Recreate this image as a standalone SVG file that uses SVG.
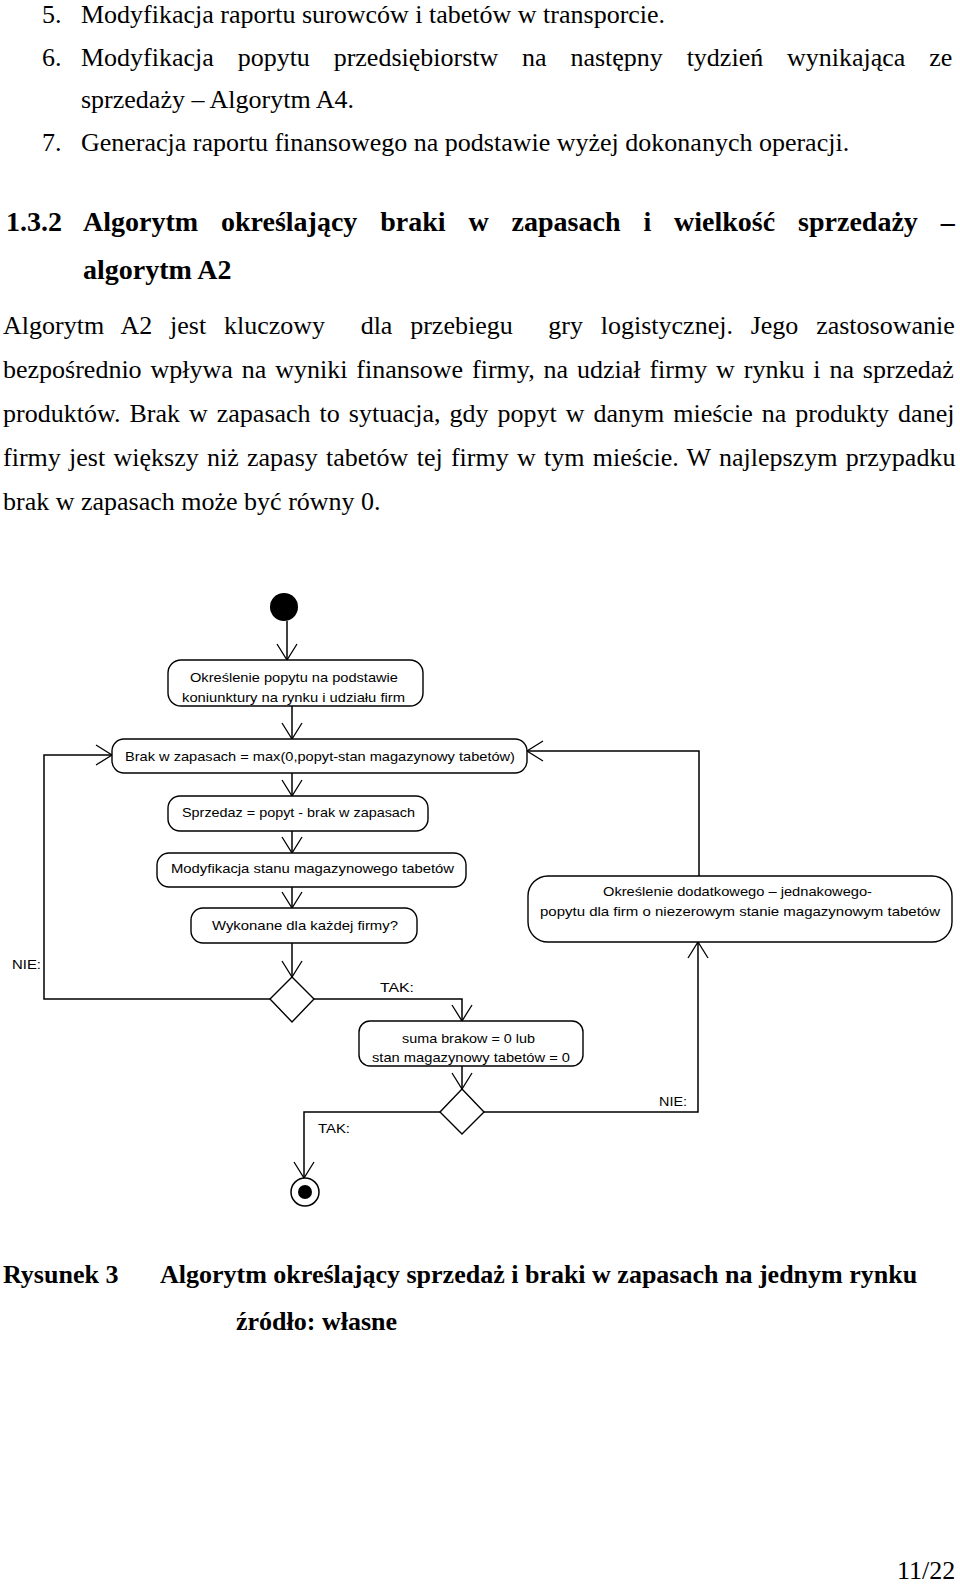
<svg xmlns="http://www.w3.org/2000/svg" width="960" height="1584" viewBox="0 0 960 1584">
<style>
.t{font-family:"Liberation Serif","Times New Roman",serif;font-size:26px;fill:#000;white-space:pre}
.b{font-weight:bold}
.h{font-family:"Liberation Serif","Times New Roman",serif;font-size:28px;font-weight:bold;fill:#000;white-space:pre}
.d{font-family:"Liberation Sans",Arial,sans-serif;font-size:13px;fill:#000}
.box{fill:#fff;stroke:#000;stroke-width:1.4}
.c{fill:none;stroke:#000;stroke-width:1.5}
</style>
<defs>
<marker id="a" viewBox="-18 -12 20 24" markerWidth="20" markerHeight="24" refX="0" refY="0" orient="auto" markerUnits="userSpaceOnUse">
<path d="M-16,-10 L0,0 L-16,10" fill="none" stroke="#000" stroke-width="1.3"/>
</marker>
</defs>
<rect width="960" height="1584" fill="#fff"/>

<g id="page-text">
<text class="t" x="42" y="23">5.</text>
<text class="t" x="81" y="23">Modyfikacja raportu surowców i tabetów w transporcie.</text>
<text class="t" x="42" y="66">6.</text>
<text class="t" x="81" y="66" style="word-spacing:17.3px">Modyfikacja popytu przedsiębiorstw na następny tydzień wynikająca ze</text>
<text class="t" x="81" y="108">sprzedaży – Algorytm A4.</text>
<text class="t" x="42" y="151">7.</text>
<text class="t" x="81" y="151">Generacja raportu finansowego na podstawie wyżej dokonanych operacji.</text>
<text class="h" x="6" y="231">1.3.2</text>
<text class="h" x="83" y="231" style="word-spacing:15.9px">Algorytm określający braki w zapasach i wielkość sprzedaży –</text>
<text class="h" x="83" y="279">algorytm A2</text>
<text class="t" x="3" y="334" style="word-spacing:11.3px">Algorytm A2 jest kluczowy  dla przebiegu  gry logistycznej. Jego zastosowanie</text>
<text class="t" x="3" y="378" style="word-spacing:2.4px">bezpośrednio wpływa na wyniki finansowe firmy, na udział firmy w rynku i na sprzedaż</text>
<text class="t" x="3" y="422" style="word-spacing:2.5px">produktów. Brak w zapasach to sytuacja, gdy popyt w danym mieście na produkty danej</text>
<text class="t" x="3" y="466" style="word-spacing:1.8px">firmy jest większy niż zapasy tabetów tej firmy w tym mieście. W najlepszym przypadku</text>
<text class="t" x="3" y="510">brak w zapasach może być równy 0.</text>
<text class="t b" x="3" y="1283">Rysunek 3</text>
<text class="t b" x="160" y="1283">Algorytm określający sprzedaż i braki w zapasach na jednym rynku</text>
<text class="t b" x="236" y="1330">źródło: własne</text>
<text class="t" x="897" y="1579">11/22</text>
</g>

<g id="connectors">
<path class="c" d="M287,621 V660" marker-end="url(#a)"/>
<path class="c" d="M292,706 V739" marker-end="url(#a)"/>
<path class="c" d="M292,773 V796" marker-end="url(#a)"/>
<path class="c" d="M292,831 V853" marker-end="url(#a)"/>
<path class="c" d="M292,887 V908" marker-end="url(#a)"/>
<path class="c" d="M292,943 V977" marker-end="url(#a)"/>
<path class="c" d="M270,999 H44 V755 H112" marker-end="url(#a)"/>
<path class="c" d="M314,999 H462 V1021" marker-end="url(#a)"/>
<path class="c" d="M462,1066 V1089" marker-end="url(#a)"/>
<path class="c" d="M440,1112 H304 V1178" marker-end="url(#a)"/>
<path class="c" d="M484,1112 H698 V942" marker-end="url(#a)"/>
<path class="c" d="M699,876 V751 H527" marker-end="url(#a)"/>
<text class="d" x="12" y="969" textLength="29" lengthAdjust="spacingAndGlyphs">NIE:</text>
<text class="d" x="380" y="992" textLength="34" lengthAdjust="spacingAndGlyphs">TAK:</text>
<text class="d" x="318" y="1133" textLength="32" lengthAdjust="spacingAndGlyphs">TAK:</text>
<text class="d" x="659" y="1106" textLength="28" lengthAdjust="spacingAndGlyphs">NIE:</text>
</g>

<g id="start">
<circle cx="284" cy="607" r="14" fill="#000"/>
</g>

<g id="n1">
<rect class="box" x="168" y="660" width="255" height="46" rx="13"/>
<text class="d" x="190" y="682" textLength="208" lengthAdjust="spacingAndGlyphs">Określenie popytu na podstawie</text>
<text class="d" x="182" y="702" textLength="223" lengthAdjust="spacingAndGlyphs">koniunktury na rynku i udziału firm</text>
</g>

<g id="n2">
<rect class="box" x="112" y="739" width="415" height="34" rx="12"/>
<text class="d" x="125" y="761" textLength="390" lengthAdjust="spacingAndGlyphs">Brak w zapasach = max(0,popyt-stan magazynowy tabetów)</text>
</g>

<g id="n3">
<rect class="box" x="168" y="796" width="260" height="35" rx="12"/>
<text class="d" x="182" y="817" textLength="233" lengthAdjust="spacingAndGlyphs">Sprzedaz = popyt - brak w zapasach</text>
</g>

<g id="n4">
<rect class="box" x="157" y="853" width="309" height="34" rx="12"/>
<text class="d" x="171" y="873" textLength="283" lengthAdjust="spacingAndGlyphs">Modyfikacja stanu magazynowego tabetów</text>
</g>

<g id="n5">
<rect class="box" x="191" y="908" width="226" height="35" rx="12"/>
<text class="d" x="212" y="930" textLength="186" lengthAdjust="spacingAndGlyphs">Wykonane dla każdej firmy?</text>
</g>

<g id="d1">
<path class="box" d="M292,977 L314,999 L292,1022 L270,999 Z"/>
</g>

<g id="n6">
<rect class="box" x="359" y="1021" width="224" height="45" rx="11"/>
<text class="d" x="402" y="1043" textLength="133" lengthAdjust="spacingAndGlyphs">suma brakow = 0 lub</text>
<text class="d" x="372" y="1062" textLength="198" lengthAdjust="spacingAndGlyphs">stan magazynowy tabetów = 0</text>
</g>

<g id="d2">
<path class="box" d="M462,1089 L484,1112 L462,1134 L440,1112 Z"/>
</g>

<g id="end">
<circle cx="305" cy="1192" r="14" fill="#fff" stroke="#000" stroke-width="1.5"/>
<circle cx="305" cy="1192" r="7" fill="#000"/>
</g>

<g id="n7">
<rect class="box" x="528" y="876" width="424" height="66" rx="20"/>
<text class="d" x="603" y="896" textLength="269" lengthAdjust="spacingAndGlyphs">Określenie dodatkowego – jednakowego-</text>
<text class="d" x="540" y="916" textLength="400" lengthAdjust="spacingAndGlyphs">popytu dla firm o niezerowym stanie magazynowym tabetów</text>
</g>
</svg>
